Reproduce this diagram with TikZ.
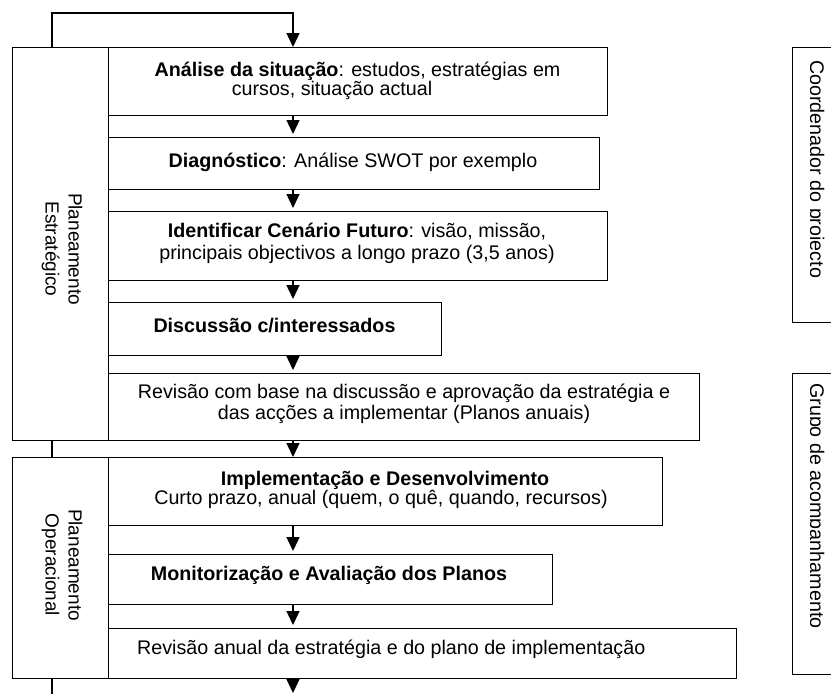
\documentclass[tikz,border=0pt]{standalone}
\usepackage{fontspec}
\setmainfont{Liberation Sans}
\usetikzlibrary{arrows.meta}
\begin{document}
\begin{tikzpicture}[x=1pt,y=-1pt,
  font=\fontsize{19.7}{21}\selectfont,
  box/.style={draw, line width=1.4pt, fill=white, inner sep=0pt, anchor=north west},
  txt/.style={inner sep=0pt, anchor=base},
  side/.style={inner sep=0pt, rotate=-90, align=center, font=\fontsize{19}{23}\selectfont},
  arr/.style={line width=1.4pt, -{Triangle[width=13pt,length=14pt]}, shorten >=3pt}]
\useasboundingbox (0,0) rectangle (831,694);
\clip (0,0) rectangle (831,694);
\fill[white] (0,0) rectangle (831,694);
% coordinates
\coordinate (ax) at (293,0);
\coordinate (lb) at (52,700);
\coordinate (rt) at (293,13);
\coordinate (end) at (293,696);
% feedback loop (behind the boxes)
\draw[arr, shorten >=0pt] (lb) |- (rt) -- (293,47);
% outer boxes
\node[box, minimum width=96pt, minimum height=393pt] (ps) at (12,47) {};
\node[box, minimum width=96pt, minimum height=221pt] (po) at (12,457) {};
\node[side] (lps) at (62,249) {Planeamento\\Estratégico};
\node[side] (lpo) at (62,565) {Planeamento\\Operacional};
% inner boxes
\node[box, minimum width=499pt, minimum height=68pt] (b1) at (108,47) {};
\node[box, minimum width=491pt, minimum height=52pt] (b2) at (108,137) {};
\node[box, minimum width=499pt, minimum height=69pt] (b3) at (108,211) {};
\node[box, minimum width=333pt, minimum height=53pt] (b4) at (108,302) {};
\node[box, minimum width=591pt, minimum height=67pt] (b5) at (108,373) {};
\node[box, minimum width=554pt, minimum height=68pt] (b6) at (108,457) {};
\node[box, minimum width=444pt, minimum height=50pt] (b7) at (108,554) {};
\node[box, minimum width=628pt, minimum height=50pt] (b8) at (108,628) {};
% texts
\node[txt] (t1a) at (357.5,76) {\textbf{Análise da situação}: estudos, estratégias em};
\node[txt] (t1b) at (332,95) {cursos, situação actual};
\node[txt] (t2) at (353,167) {\textbf{Diagnóstico}: Análise SWOT por exemplo};
\node[txt] (t3a) at (357,237) {\textbf{Identificar Cenário Futuro}: visão, missão,};
\node[txt] (t3b) at (357,259) {principais objectivos a longo prazo (3,5 anos)};
\node[txt] (t4) at (274.5,332) {\textbf{Discussão c/interessados}};
\node[txt] (t5a) at (404,398) {Revisão com base na discussão e aprovação da estratégia e};
\node[txt] (t5b) at (404,419) {das acções a implementar (Planos anuais)};
\node[txt] (t6a) at (385,485) {\textbf{Implementação e Desenvolvimento}};
\node[txt] (t6b) at (381,504) {Curto prazo, anual (quem, o quê, quando, recursos)};
\node[txt] (t7) at (329,580) {\textbf{Monitorização e Avaliação dos Planos}};
\node[txt, anchor=base west] (t8) at (137,654) {Revisão anual da estratégia e do plano de implementação};
% arrows between boxes
\draw[arr] (b1.south -| ax) -- (b2.north -| ax);
\draw[arr] (b2.south -| ax) -- (b3.north -| ax);
\draw[arr] (b3.south -| ax) -- (b4.north -| ax);
\draw[arr] (b4.south -| ax) -- (b5.north -| ax);
\draw[arr, shorten >=0pt] (ps.south -| ax) -- (po.north -| ax);
\draw[arr] (b6.south -| ax) -- (b7.north -| ax);
\draw[arr] (b7.south -| ax) -- (b8.north -| ax);
\draw[arr] (po.south -| ax) -- (end);
% right-hand boxes
\node[box, minimum width=60pt, minimum height=275pt] (cp) at (792,47) {};
\node[box, minimum width=60pt, minimum height=301pt] (ga) at (792,373) {};
\begin{scope}
\clip (810,0) rectangle (831,694);
\node[inner sep=0pt, rotate=-90, anchor=base west] (tcp) at (810,60) {Coordenador do projecto};
\node[inner sep=0pt, rotate=-90, anchor=base west] (tga) at (810,383) {Grupo de acompanhamento};
\end{scope}
\end{tikzpicture}
\end{document}
